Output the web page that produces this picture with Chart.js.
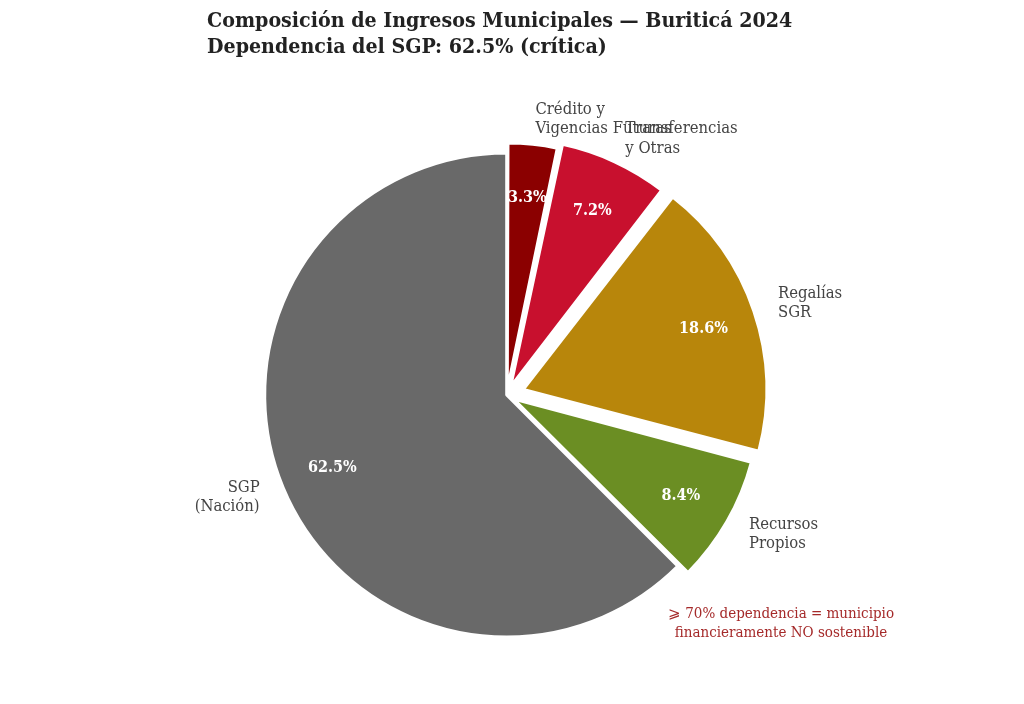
<!DOCTYPE html>
<html>
<head>
<meta charset="utf-8">
<script src="https://cdn.jsdelivr.net/npm/chart.js@4.4.1/dist/chart.umd.min.js"></script>
<style>
  html, body { margin: 0; padding: 0; background: #ffffff; }
  #wrap { width: 1024px; height: 704px; position: relative; }
</style>
</head>
<body>
<div id="wrap"><canvas id="c"></canvas></div>
<script>
// ---- Data ----
const categories = [
  ["Crédito y", "Vigencias Futuras"],
  ["Transferencias", "y Otras"],
  ["Regalías", "SGR"],
  ["Recursos", "Propios"],
  ["SGP", "(Nación)"]
];
const shares = [3.3, 7.2, 18.6, 8.4, 62.5];
const titleLines = [
  "Composición de Ingresos Municipales — Buriticá 2024",
  "Dependencia del SGP: 62.5% (crítica)"
];
const noteLines = [
  "⩾ 70% dependencia = municipio",
  "financieramente NO sostenible"
];

// ---- Styles ----
const sliceColors = ["#8B0000", "#C8102E", "#B8860B", "#6B8E23", "#696969"];
const explodePx = [10, 15, 19, 12, 0];
const FONT = "'DejaVu Serif Condensed', 'Liberation Serif', serif";

const total = shares.reduce((a, b) => a + b, 0);
function arcTranslation(offset, circumference) {
  const fix = 1 - Math.sin(Math.min(Math.PI, circumference || 0));
  return offset / 4 * (1 + fix);
}

const labelPlugin = {
  id: 'pieLabels',
  afterDatasetsDraw(chart) {
    const ctx = chart.ctx;
    const meta = chart.getDatasetMeta(0);
    ctx.save();
    meta.data.forEach((arc, i) => {
      const p = arc.getProps(['x', 'y', 'startAngle', 'endAngle', 'outerRadius', 'circumference']);
      const mid = (p.startAngle + p.endAngle) / 2;
      const t = arcTranslation(arc.options.offset || 0, p.circumference);
      const r = p.outerRadius;
      const cx = Math.cos(mid), cy = Math.sin(mid);
      // percentage label
      const px = p.x + cx * (t + 0.78 * r);
      const py = p.y + cy * (t + 0.78 * r);
      ctx.font = "bold 16px " + FONT;
      ctx.fillStyle = "#ffffff";
      ctx.textAlign = "center";
      ctx.textBaseline = "middle";
      ctx.fillText(shares[i].toFixed(1) + "%", px, py + 1);
      // category label
      const lx = p.x + cx * (t + 1.105 * r);
      const ly = p.y + cy * (t + 1.105 * r);
      ctx.font = "16.5px " + FONT;
      ctx.fillStyle = "#444444";
      ctx.textAlign = lx >= p.x ? "left" : "right";
      const lines = categories[i];
      const lh = 19.5;
      lines.forEach((ln, k) => {
        ctx.fillText(ln, lx, ly + (k - (lines.length - 1) / 2) * lh);
      });
    });
    // note
    ctx.font = "15px " + FONT;
    ctx.fillStyle = "#A52A2A";
    ctx.textAlign = "center";
    ctx.textBaseline = "middle";
    noteLines.forEach((ln, k) => ctx.fillText(ln, 781, 614 + k * 19));
    ctx.restore();
  }
};

new Chart(document.getElementById('c'), {
  type: 'pie',
  data: {
    labels: categories,
    datasets: [{
      data: shares,
      backgroundColor: sliceColors,
      borderColor: "#ffffff",
      borderWidth: 3,
      radius: 242,
      offset: (ctx) => {
        const i = ctx.dataIndex;
        const circ = shares[i] / total * Math.PI * 2;
        const fix = 1 - Math.sin(Math.min(Math.PI, circ));
        return 4 * explodePx[i] / (1 + fix);
      }
    }]
  },
  options: {
    responsive: true,
    maintainAspectRatio: false,
    animation: false,
    layout: { padding: { left: 207, right: 217.6, top: 0, bottom: 0 } },
    plugins: {
      legend: { display: false },
      tooltip: { enabled: false },
      title: {
        display: true,
        text: titleLines,
        align: 'start',
        color: '#222222',
        font: { family: FONT, size: 21.2, weight: 'bold', lineHeight: '26px' },
        padding: { top: 8, bottom: 26 }
      }
    }
  },
  plugins: [labelPlugin]
});
</script>
</body>
</html>
